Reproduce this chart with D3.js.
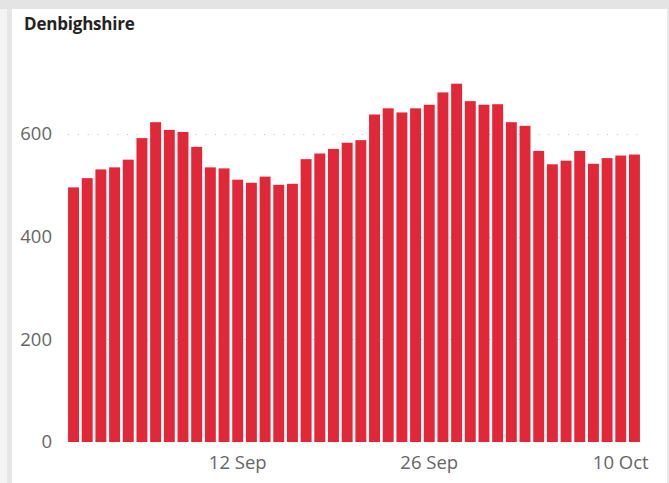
<!DOCTYPE html>
<html>
<head>
<meta charset="utf-8">
<script src="https://cdn.jsdelivr.net/npm/d3@7"></script>
<style>
  html, body { margin: 0; padding: 0; background: #f3f3f3; }
  svg { display: block; }
</style>
</head>
<body>
<svg id="chart" width="669" height="483"></svg>
<script>
const title = "Denbighshire";
const dates = [
  "31 Aug","1 Sep","2 Sep","3 Sep","4 Sep","5 Sep","6 Sep","7 Sep","8 Sep","9 Sep","10 Sep","11 Sep","12 Sep","13 Sep",
  "14 Sep","15 Sep","16 Sep","17 Sep","18 Sep","19 Sep","20 Sep","21 Sep","22 Sep","23 Sep","24 Sep","25 Sep","26 Sep","27 Sep",
  "28 Sep","29 Sep","30 Sep","1 Oct","2 Oct","3 Oct","4 Oct","5 Oct","6 Oct","7 Oct","8 Oct","9 Oct","10 Oct","11 Oct"
];
const values = [
  496, 514, 531, 535, 550, 592, 623, 608, 604, 575, 535, 533, 511, 505,
  517, 501, 503, 551, 562, 571, 583, 588, 638, 650, 642, 650, 657, 681,
  698, 664, 657, 658, 623, 616, 567, 541, 548, 567, 542, 553, 558, 560
];
const xTickLabels = ["12 Sep", "26 Sep", "10 Oct"];
const yTickValues = [0, 200, 400, 600];

const svg = d3.select("#chart");
const W = 669, H = 483;
const font = "'Open Sans', 'Noto Sans', sans-serif";

// frame
svg.append("rect").attr("x", 0).attr("y", 0).attr("width", W).attr("height", 9).attr("fill", "#e4e4e4");
svg.append("rect").attr("x", 7).attr("y", 9).attr("width", 5).attr("height", H - 9).attr("fill", "#e6e6e6");
svg.append("rect").attr("x", 12).attr("y", 9).attr("width", 655).attr("height", H - 9).attr("fill", "#ffffff");
svg.append("rect").attr("x", 667).attr("y", 9).attr("width", 2).attr("height", H - 9).attr("fill", "#e8e8e8");

svg.append("text")
  .attr("x", 24).attr("y", 30)
  .attr("font-family", font)
  .attr("font-weight", "bold")
  .attr("font-size", 17)
  .attr("letter-spacing", -0.2)
  .attr("fill", "#252423")
  .text(title);

const y = d3.scaleLinear().domain([0, 750]).range([442, 442 - 750 * (308 / 600)]);
const x = d3.scaleBand().domain(dates).range([66.7, 641.3]).paddingInner(0.2).paddingOuter(0.1);

// gridlines
svg.append("g")
  .selectAll("line")
  .data(yTickValues.filter(d => d > 0))
  .join("line")
  .attr("x1", 68).attr("x2", 641)
  .attr("y1", d => Math.round(y(d)) + 0.5).attr("y2", d => Math.round(y(d)) + 0.5)
  .attr("stroke", "#c8c8c8")
  .attr("stroke-width", 1.2)
  .attr("stroke-dasharray", "1.2,8.6");

// bars
svg.append("g")
  .selectAll("rect")
  .data(values)
  .join("rect")
  .attr("x", (d, i) => x(dates[i]))
  .attr("width", x.bandwidth())
  .attr("y", d => y(d))
  .attr("height", d => y(0) - y(d))
  .attr("fill", "#e12838");

// y axis
const yAxis = d3.axisLeft(y).tickValues(yTickValues).tickSize(0).tickPadding(0);
const gy = svg.append("g").attr("transform", "translate(52,0)").call(yAxis);
gy.select(".domain").remove();
gy.selectAll("text")
  .attr("font-family", font)
  .attr("font-size", 18.5)
  .attr("fill", "#666666");

// x axis
const xAxis = d3.axisBottom(x).tickValues(xTickLabels).tickSize(0).tickPadding(0);
const gx = svg.append("g").attr("transform", "translate(0,456)").call(xAxis);
gx.select(".domain").remove();
gx.selectAll("text")
  .attr("font-family", font)
  .attr("font-size", 18.5)
  .attr("fill", "#666666");
</script>
</body>
</html>
